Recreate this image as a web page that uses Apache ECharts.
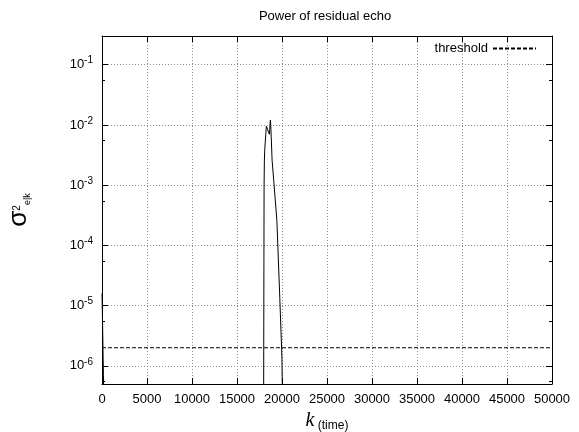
<!DOCTYPE html>
<html>
<head>
<meta charset="utf-8">
<script src="https://cdn.jsdelivr.net/npm/echarts@6/dist/echarts.min.js"></script>
<style>
html,body{margin:0;padding:0;background:#fff;}
#chart{width:579px;height:432px;}
</style>
</head>
<body>
<div id="chart"></div>
<script>
// ---- data ----
const titleText = 'Power of residual echo';
const xTicks = [0, 5000, 10000, 15000, 20000, 25000, 30000, 35000, 40000, 45000, 50000];
const yRange = [5e-7, 0.3];
// k (time) samples of the residual echo power
const echoK = [0, 40, 80, 120, 160, 200, 260, 17900,
  17960, 17990, 18010, 18040, 18080, 18130, 18200, 18260, 18320, 18360, 18400, 18450,
  18500, 18550, 18600, 18640, 18680, 18710, 18740, 18770, 18800, 18900, 19100, 19430, 19760, 19990, 20100];
const echoPower = [1.6e-5, 8e-6, 3.5e-6, 1.5e-6, 7e-7, 3e-7, 1e-9, 1e-9,
  3e-7, 5e-5, 1e-3, 2.5e-3, 3.8e-3, 5e-3, 7e-3, 9.5e-3, 1.0e-2, 9e-3, 8.5e-3, 8e-3,
  7.6e-3, 7.3e-3, 7.0e-3, 8.5e-3, 1.1e-2, 1.2e-2, 1.05e-2, 8.5e-3, 6.5e-3, 2.6e-3, 1.1e-3, 2.6e-4, 1.3e-5, 1.4e-6, 1e-7];
const thresholdName = 'threshold';
const thresholdK = [0, 50000];
const thresholdValue = [2e-6, 2e-6];

const echoData = echoK.map((k, i) => [k, echoPower[i]]);
const thrData = thresholdK.map((k, i) => [k, thresholdValue[i]]);

const FONT = 'Liberation Sans, Arial, Helvetica, sans-serif';
const gridLine = { show: true, lineStyle: { color: '#8c8c8c', width: 1, type: [1, 2] } };

function isDecade(v) {
  const e = Math.log10(v);
  return Math.abs(e - Math.round(e)) < 1e-6;
}

const chart = echarts.init(document.getElementById('chart'), null, { renderer: 'canvas' });
chart.setOption({
  animation: false,
  backgroundColor: '#fff',
  title: {
    text: titleText, left: 320, top: 5, textAlign: 'center',
    textStyle: { fontFamily: FONT, fontSize: 13, fontWeight: 'normal', color: '#000' }
  },
  legend: {
    data: [thresholdName],
    right: 37, top: 37, align: 'right',
    itemWidth: 43, itemHeight: 11,
    itemStyle: { opacity: 0 },
    lineStyle: { type: 'inherit', opacity: 1 },
    textStyle: { fontFamily: FONT, fontSize: 13, color: '#000' }
  },
  grid: { left: 102, right: 27, top: 36, bottom: 48, containLabel: false, outerBoundsMode: 'none' },
  xAxis: [{
    type: 'value', min: 0, max: 50000, interval: 5000,
    name: '{k|k}{t| (time)}', nameLocation: 'middle', nameGap: 24,
    nameTextStyle: {
      rich: {
        k: { fontFamily: 'Liberation Serif, Times New Roman, serif', fontStyle: 'italic', fontSize: 20, color: '#000', lineHeight: 22 },
        t: { fontFamily: FONT, fontSize: 12, color: '#000', lineHeight: 18, verticalAlign: 'bottom' }
      }
    },
    axisLine: { show: true, onZero: false, lineStyle: { color: '#000', width: 1 } },
    axisTick: { show: true, inside: true, length: 6, lineStyle: { color: '#000' } },
    axisLabel: {
      margin: 9, fontFamily: FONT, fontSize: 13, color: '#000',
      formatter: v => xTicks.indexOf(v) >= 0 ? String(v) : ''
    },
    splitLine: gridLine
  }, {
    type: 'value', min: 0, max: 50000, interval: 5000, position: 'top',
    axisLine: { show: true, onZero: false, lineStyle: { color: '#000', width: 1 } },
    axisTick: { show: true, inside: true, length: 6, lineStyle: { color: '#000' } },
    axisLabel: { show: false }, splitLine: { show: false }
  }],
  yAxis: [{
    type: 'log', logBase: 10, min: yRange[0], max: yRange[1],
    name: '{s|σ}{p|2}{b|e|k}', nameLocation: 'middle', nameRotate: 90, nameGap: 70,
    nameTextStyle: {
      rich: {
        s: { fontFamily: FONT, fontSize: 26, color: '#000', lineHeight: 26 },
        p: { fontFamily: FONT, fontSize: 10, color: '#000', padding: [0, 0, 4, 0] },
        b: { fontFamily: FONT, fontSize: 9, color: '#000', lineHeight: 2, verticalAlign: 'bottom' }
      }
    },
    axisLine: { show: true, onZero: false, lineStyle: { color: '#000', width: 1 } },
    axisTick: { show: true, inside: true, length: 6, lineStyle: { color: '#000' } },
    minorTick: { show: true, splitNumber: 2, length: 3, lineStyle: { color: '#000' } },
    axisLabel: {
      margin: 9, fontFamily: FONT, color: '#000',
      formatter: v => isDecade(v) ? '{b|10}{e|' + Math.round(Math.log10(v)) + '}' : '',
      rich: {
        b: { fontFamily: FONT, fontSize: 13, color: '#000', lineHeight: 18 },
        e: { fontFamily: FONT, fontSize: 10, color: '#000', lineHeight: 9, verticalAlign: 'top' }
      }
    },
    splitLine: gridLine
  }, {
    type: 'log', logBase: 10, min: yRange[0], max: yRange[1], position: 'right',
    axisLine: { show: true, onZero: false, lineStyle: { color: '#000', width: 1 } },
    axisTick: { show: true, inside: true, length: 6, lineStyle: { color: '#000' } },
    minorTick: { show: true, splitNumber: 2, length: 3, lineStyle: { color: '#000' } },
    axisLabel: { show: false }, splitLine: { show: false }
  }],
  series: [{
    name: 'echo', type: 'line', data: echoData, showSymbol: false, symbol: 'none',
    clip: true, lineStyle: { color: '#000', width: 1 }, z: 3
  }, {
    name: thresholdName, type: 'line', data: thrData, showSymbol: false, symbol: 'none',
    clip: true, lineStyle: { color: '#000', width: 1, type: [4, 2] }, itemStyle: { color: '#000' }, z: 2
  }]
});
</script>
</body>
</html>
